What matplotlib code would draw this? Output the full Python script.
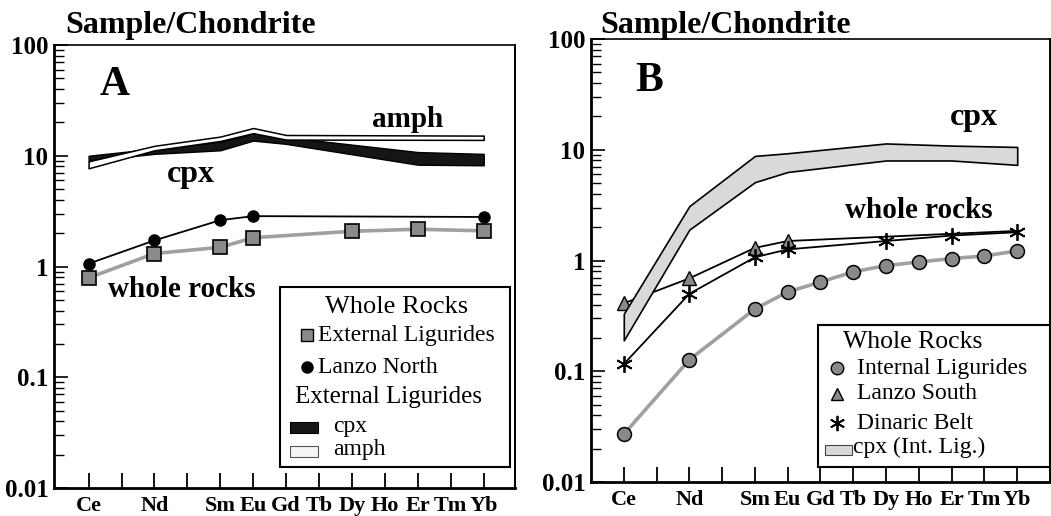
import matplotlib
matplotlib.use('Agg')
import matplotlib.pyplot as plt
import matplotlib.font_manager as fm
from matplotlib.patches import Rectangle
from matplotlib.lines import Line2D
from matplotlib.ticker import FixedLocator, FixedFormatter, LogLocator, NullFormatter

# ---------------- data ----------------
ree = ['Ce', 'Pr', 'Nd', 'Pm', 'Sm', 'Eu', 'Gd', 'Tb', 'Dy', 'Ho', 'Er', 'Tm', 'Yb']
ree_labels = ['Ce', '', 'Nd', '', 'Sm', 'Eu', 'Gd', 'Tb', 'Dy', 'Ho', 'Er', 'Tm', 'Yb']
ytick_vals = [0.01, 0.1, 1, 10, 100]
ytick_labels = ['0.01', '0.1', '1', '10', '100']

# Panel A
extlig_el = ['Ce', 'Nd', 'Sm', 'Eu', 'Dy', 'Er', 'Yb']
extlig_val = [0.79, 1.31, 1.49, 1.82, 2.08, 2.17, 2.10]
lanzoN_el = ['Ce', 'Nd', 'Sm', 'Eu', 'Yb']
lanzoN_val = [1.06, 1.72, 2.62, 2.85, 2.80]
cpxA_el = ['Ce', 'Nd', 'Sm', 'Eu', 'Gd', 'Er', 'Yb']
cpxA_lo = [9.0, 10.4, 11.2, 13.7, 12.8, 8.3, 8.2]
cpxA_hi = [10.0, 11.6, 13.4, 16.0, 14.7, 10.8, 10.4]
amphA_el = ['Ce', 'Nd', 'Sm', 'Eu', 'Gd', 'Yb']
amphA_lo = [7.7, 11.2, 13.6, 16.0, 14.0, 13.9]
amphA_hi = [8.9, 12.3, 14.9, 17.8, 15.4, 15.2]

# Panel B
intlig_el = ['Ce', 'Nd', 'Sm', 'Eu', 'Gd', 'Tb', 'Dy', 'Ho', 'Er', 'Tm', 'Yb']
intlig_val = [0.027, 0.127, 0.365, 0.52, 0.64, 0.79, 0.90, 0.97, 1.04, 1.10, 1.22]
lanzoS_el = ['Ce', 'Nd', 'Sm', 'Eu', 'Yb']
lanzoS_val = [0.41, 0.69, 1.30, 1.50, 1.85]
dinaric_el = ['Ce', 'Nd', 'Sm', 'Eu', 'Dy', 'Er', 'Yb']
dinaric_val = [0.116, 0.50, 1.07, 1.26, 1.50, 1.68, 1.80]
cpxB_el = ['Ce', 'Nd', 'Sm', 'Eu', 'Dy', 'Er', 'Yb']
cpxB_lo = [0.19, 1.9, 5.1, 6.3, 8.0, 8.0, 7.3]
cpxB_hi = [0.33, 3.1, 8.8, 9.3, 11.4, 10.9, 10.6]

# ---------------- fonts ----------------
serif_name = None
for f in fm.findSystemFonts():
    base = f.split('/')[-1]
    if base.startswith('LiberationSerif'):
        try:
            fm.fontManager.addfont(f)
        except Exception:
            pass
for cand in ['Liberation Serif', 'Times New Roman', 'Nimbus Roman', 'DejaVu Serif']:
    if any(e.name == cand for e in fm.fontManager.ttflist):
        serif_name = cand
        break
if serif_name is None:
    serif_name = 'serif'
plt.rcParams['font.family'] = [serif_name, 'DejaVu Serif']
plt.rcParams['font.serif'] = [serif_name, 'DejaVu Serif']

GREY = '#8a8a8a'
GREYLINE = '#a0a0a0'

def xp(els):
    return [ree.index(e) for e in els]

fig = plt.figure(figsize=(10.51, 5.16), dpi=100)
axA = fig.add_axes([54/1051, (516-488)/516, 461/1051, 443/516])
axB = fig.add_axes([591/1051, (516-482)/516, 459/1051, 443/516])


def style_axes(ax, xlim):
    ax.set_yscale('log')
    ax.set_ylim(0.01, 100)
    ax.set_xlim(*xlim)
    ax.yaxis.set_major_locator(FixedLocator(ytick_vals))
    ax.yaxis.set_major_formatter(FixedFormatter(ytick_labels))
    ax.yaxis.set_minor_locator(LogLocator(base=10, subs=range(2, 10)))
    ax.yaxis.set_minor_formatter(NullFormatter())
    ax.set_xticks(range(len(ree)))
    ax.set_xticklabels(ree_labels)
    ax.tick_params(axis='y', which='major', direction='in', length=10, width=1.2,
                   labelsize=18, pad=4)
    ax.tick_params(axis='y', which='minor', direction='in', length=7, width=1.0)
    ax.tick_params(axis='x', which='major', direction='in', length=11, width=1.3,
                   labelsize=16, pad=6)
    for lab in ax.get_xticklabels() + ax.get_yticklabels():
        lab.set_fontweight('bold')
    ax.spines['left'].set_linewidth(2.0)
    ax.spines['bottom'].set_linewidth(2.0)
    ax.spines['top'].set_linewidth(1.2)
    ax.spines['right'].set_linewidth(1.4)


style_axes(axA, (-1.05, 12.95))
style_axes(axB, (-1.0, 13.0))

# ---------------- panel A ----------------
axA.fill_between(xp(cpxA_el), cpxA_lo, cpxA_hi, facecolor='#151515',
                 edgecolor='black', lw=1.0, zorder=2)
axA.fill_between(xp(amphA_el), amphA_lo, amphA_hi, facecolor='white',
                 edgecolor='black', lw=1.1, zorder=3)
axA.plot(xp(lanzoN_el), lanzoN_val, color='black', lw=1.3, marker='o',
         ms=8, mfc='black', mec='black', zorder=4)
axA.plot(xp(extlig_el), extlig_val, color=GREYLINE, lw=2.6, marker='s',
         ms=10, mfc=GREY, mec='black', mew=1.2, zorder=5)

tA = axA.transAxes
fig.text(65/1051, 1-33/516, 'Sample/Chondrite', fontsize=23, fontweight='bold',
         va='baseline', ha='left')
axA.text(0.10, 0.887, 'A', transform=tA, fontsize=30, fontweight='bold', va='baseline')
axA.text(0.69, 0.815, 'amph', transform=tA, fontsize=21, fontweight='bold', va='baseline')
axA.text(0.245, 0.691, 'cpx', transform=tA, fontsize=23, fontweight='bold', va='baseline')
axA.text(0.117, 0.431, 'whole rocks', transform=tA, fontsize=21, fontweight='bold',
         va='baseline')

# legend A (drawn in axes fraction)
axA.add_patch(Rectangle((0.490, 0.047), 0.499, 0.407, transform=tA, facecolor='white',
                        edgecolor='black', lw=1.5, zorder=10))
LFS = 17
axA.text(0.744, 0.409, 'Whole Rocks', transform=tA, fontsize=19, ha='center',
         va='center', zorder=11)
axA.add_line(Line2D([0.549], [0.345], transform=tA, marker='s', ms=9, mfc=GREY,
                    mec='black', mew=1.0, ls='none', zorder=11))
axA.text(0.573, 0.345, 'External Ligurides', transform=tA, fontsize=LFS, va='center',
         zorder=11)
axA.add_line(Line2D([0.549], [0.273], transform=tA, marker='o', ms=8, mfc='black',
                    mec='black', ls='none', zorder=11))
axA.text(0.573, 0.273, 'Lanzo North', transform=tA, fontsize=LFS, va='center', zorder=11)
axA.text(0.523, 0.205, 'External Ligurides', transform=tA, fontsize=18, va='center',
         zorder=11)
axA.add_patch(Rectangle((0.512, 0.124), 0.061, 0.025, transform=tA, facecolor='#151515',
                        edgecolor='black', lw=0.8, zorder=11))
axA.text(0.605, 0.138, 'cpx', transform=tA, fontsize=LFS, va='center', zorder=11)
axA.add_patch(Rectangle((0.512, 0.070), 0.061, 0.025, transform=tA, facecolor='#f4f4f4',
                        edgecolor='#555555', lw=0.8, zorder=11))
axA.text(0.605, 0.088, 'amph', transform=tA, fontsize=LFS, va='center', zorder=11)

# ---------------- panel B ----------------
axB.plot(xp(intlig_el), intlig_val, color=GREYLINE, lw=2.6, marker='o', ms=10,
         mfc=GREY, mec='black', mew=1.1, zorder=4)
axB.plot(xp(lanzoS_el), lanzoS_val, color='black', lw=1.3, marker='^', ms=10,
         mfc=GREY, mec='black', mew=1.0, markevery=[0, 1, 2, 3], zorder=5)
axB.plot(xp(dinaric_el), dinaric_val, color='black', lw=1.3, marker=(6, 2, 0), ms=12,
         mec='black', mew=1.3, zorder=5)
axB.fill_between(xp(cpxB_el), cpxB_lo, cpxB_hi, facecolor='#d9d9d9',
                 edgecolor='black', lw=1.2, zorder=6)

tB = axB.transAxes
fig.text(600/1051, 1-33/516, 'Sample/Chondrite', fontsize=23, fontweight='bold',
         va='baseline', ha='left')
axB.text(0.096, 0.883, 'B', transform=tB, fontsize=30, fontweight='bold', va='baseline')
axB.text(0.782, 0.806, 'cpx', transform=tB, fontsize=23, fontweight='bold', va='baseline')
axB.text(0.553, 0.596, 'whole rocks', transform=tB, fontsize=21, fontweight='bold',
         va='baseline')

axB.add_patch(Rectangle((0.4946, 0.034), 0.505, 0.320, transform=tB, facecolor='white',
                        edgecolor='black', lw=1.5, zorder=10))
axB.text(0.7015, 0.316, 'Whole Rocks', transform=tB, fontsize=18.5, ha='center',
         va='center', zorder=11)
axB.add_line(Line2D([0.536], [0.257], transform=tB, marker='o', ms=9, mfc=GREY,
                    mec='black', mew=1.0, ls='none', zorder=11))
axB.text(0.5795, 0.257, 'Internal Ligurides', transform=tB, fontsize=LFS, va='center',
         zorder=11)
axB.add_line(Line2D([0.536], [0.199], transform=tB, marker='^', ms=9, mfc=GREY,
                    mec='black', mew=1.0, ls='none', zorder=11))
axB.text(0.5795, 0.199, 'Lanzo South', transform=tB, fontsize=LFS, va='center', zorder=11)
axB.add_line(Line2D([0.536], [0.133], transform=tB, marker=(6, 2, 0), ms=11,
                    mec='black', mew=1.3, ls='none', zorder=11))
axB.text(0.5795, 0.133, 'Dinaric Belt', transform=tB, fontsize=LFS, va='center', zorder=11)
axB.add_patch(Rectangle((0.5098, 0.061), 0.0588, 0.0225, transform=tB, facecolor='#d9d9d9',
                        edgecolor='#444444', lw=0.8, zorder=11))
axB.text(0.571, 0.077, 'cpx (Int. Lig.)', transform=tB, fontsize=LFS, va='center',
         zorder=11)

fig.savefig('out.png', dpi=100)
